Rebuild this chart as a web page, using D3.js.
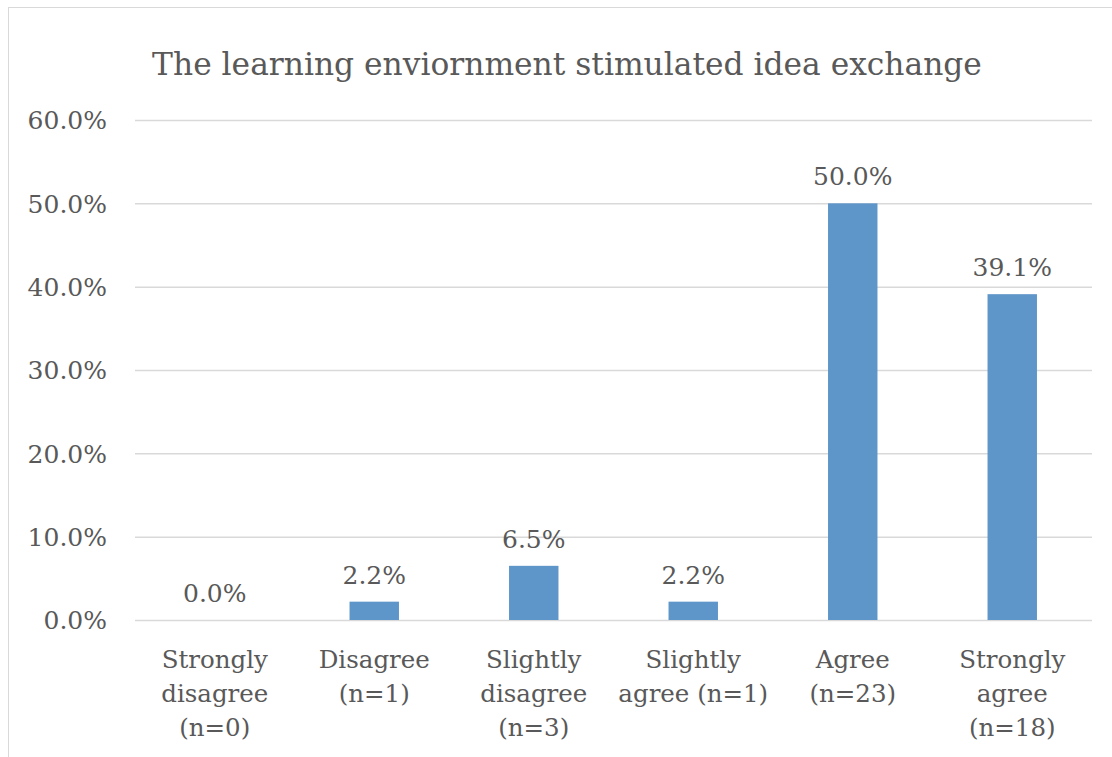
<!DOCTYPE html>
<html>
<head>
<meta charset="utf-8">
<script src="https://cdn.jsdelivr.net/npm/d3@7"></script>
<style>
  html, body { margin: 0; padding: 0; background: #fff; }
  svg { display: block; }
  text { font-family: "DejaVu Serif", "Liberation Serif", serif; fill: #595959; }
</style>
</head>
<body>
<svg id="chart" width="1112" height="757"></svg>
<script>
// Survey responses: share of respondents per answer
const categories = [
  "Strongly disagree (n=0)",
  "Disagree (n=1)",
  "Slightly disagree (n=3)",
  "Slightly agree (n=1)",
  "Agree (n=23)",
  "Strongly agree (n=18)"
];
const categoryLines = [
  ["Strongly", "disagree", "(n=0)"],
  ["Disagree", "(n=1)"],
  ["Slightly", "disagree", "(n=3)"],
  ["Slightly", "agree (n=1)"],
  ["Agree", "(n=23)"],
  ["Strongly", "agree", "(n=18)"]
];
const percentages = [0.0, 2.2, 6.5, 2.2, 50.0, 39.1];
const yTicks = [0, 10, 20, 30, 40, 50, 60];
const chartTitle = "The learning enviornment stimulated idea exchange";

const svg = d3.select("#chart");
const plot = { left: 135, right: 1092, top: 120, bottom: 620 };
const serif = "'DejaVu Serif', 'Liberation Serif', serif";

// Outer chart frame
svg.append("rect")
  .attr("x", 8.5).attr("y", 7.5)
  .attr("width", 1300).attr("height", 900)
  .attr("fill", "none").attr("stroke", "#d9d9d9").attr("stroke-width", 1);

const x = d3.scaleBand()
  .domain(categories)
  .range([plot.left, plot.right])
  .paddingInner(0.69)
  .paddingOuter(0.345);

const y = d3.scaleLinear()
  .domain([0, 60])
  .range([plot.bottom, plot.top]);

// Gridlines and y tick labels
const yAxis = d3.axisLeft(y)
  .tickValues(yTicks)
  .tickSize(-(plot.right - plot.left))
  .tickPadding(28)
  .tickFormat(d => d.toFixed(1) + "%");

const gy = svg.append("g")
  .attr("transform", `translate(${plot.left},0)`)
  .call(yAxis);
gy.select(".domain").remove();
gy.selectAll(".tick line").attr("stroke", "#d9d9d9").attr("stroke-width", 1.5);
gy.selectAll(".tick text")
  .attr("fill", "#595959")
  .style("font-size", "25px")
  .style("font-family", serif)
  .attr("dy", "0.35em");

// Bars
svg.append("g").selectAll("rect")
  .data(percentages)
  .join("rect")
  .attr("x", (d, i) => x(categories[i]))
  .attr("y", d => y(d))
  .attr("width", x.bandwidth())
  .attr("height", d => y(0) - y(d))
  .attr("fill", "#5f96c9");

// Value labels
svg.append("g").selectAll("text")
  .data(percentages)
  .join("text")
  .attr("x", (d, i) => x(categories[i]) + x.bandwidth() / 2)
  .attr("y", d => y(d) - 18)
  .attr("text-anchor", "middle")
  .style("font-size", "25px")
  .text(d => d.toFixed(1) + "%");

// Category labels, wrapped over several lines
const cat = svg.append("g").selectAll("text")
  .data(categories)
  .join("text")
  .attr("x", d => x(d) + x.bandwidth() / 2)
  .attr("y", plot.bottom + 48)
  .attr("text-anchor", "middle")
  .style("font-size", "24.5px");
cat.each(function(d, i) {
  const t = d3.select(this);
  categoryLines[i].forEach((line, k) => {
    t.append("tspan")
      .attr("x", x(d) + x.bandwidth() / 2)
      .attr("dy", k === 0 ? 0 : 34)
      .text(line);
  });
});

// Title
svg.append("text")
  .attr("x", 567)
  .attr("y", 75)
  .attr("text-anchor", "middle")
  .style("font-size", "31.3px")
  .text(chartTitle);
</script>
</body>
</html>
